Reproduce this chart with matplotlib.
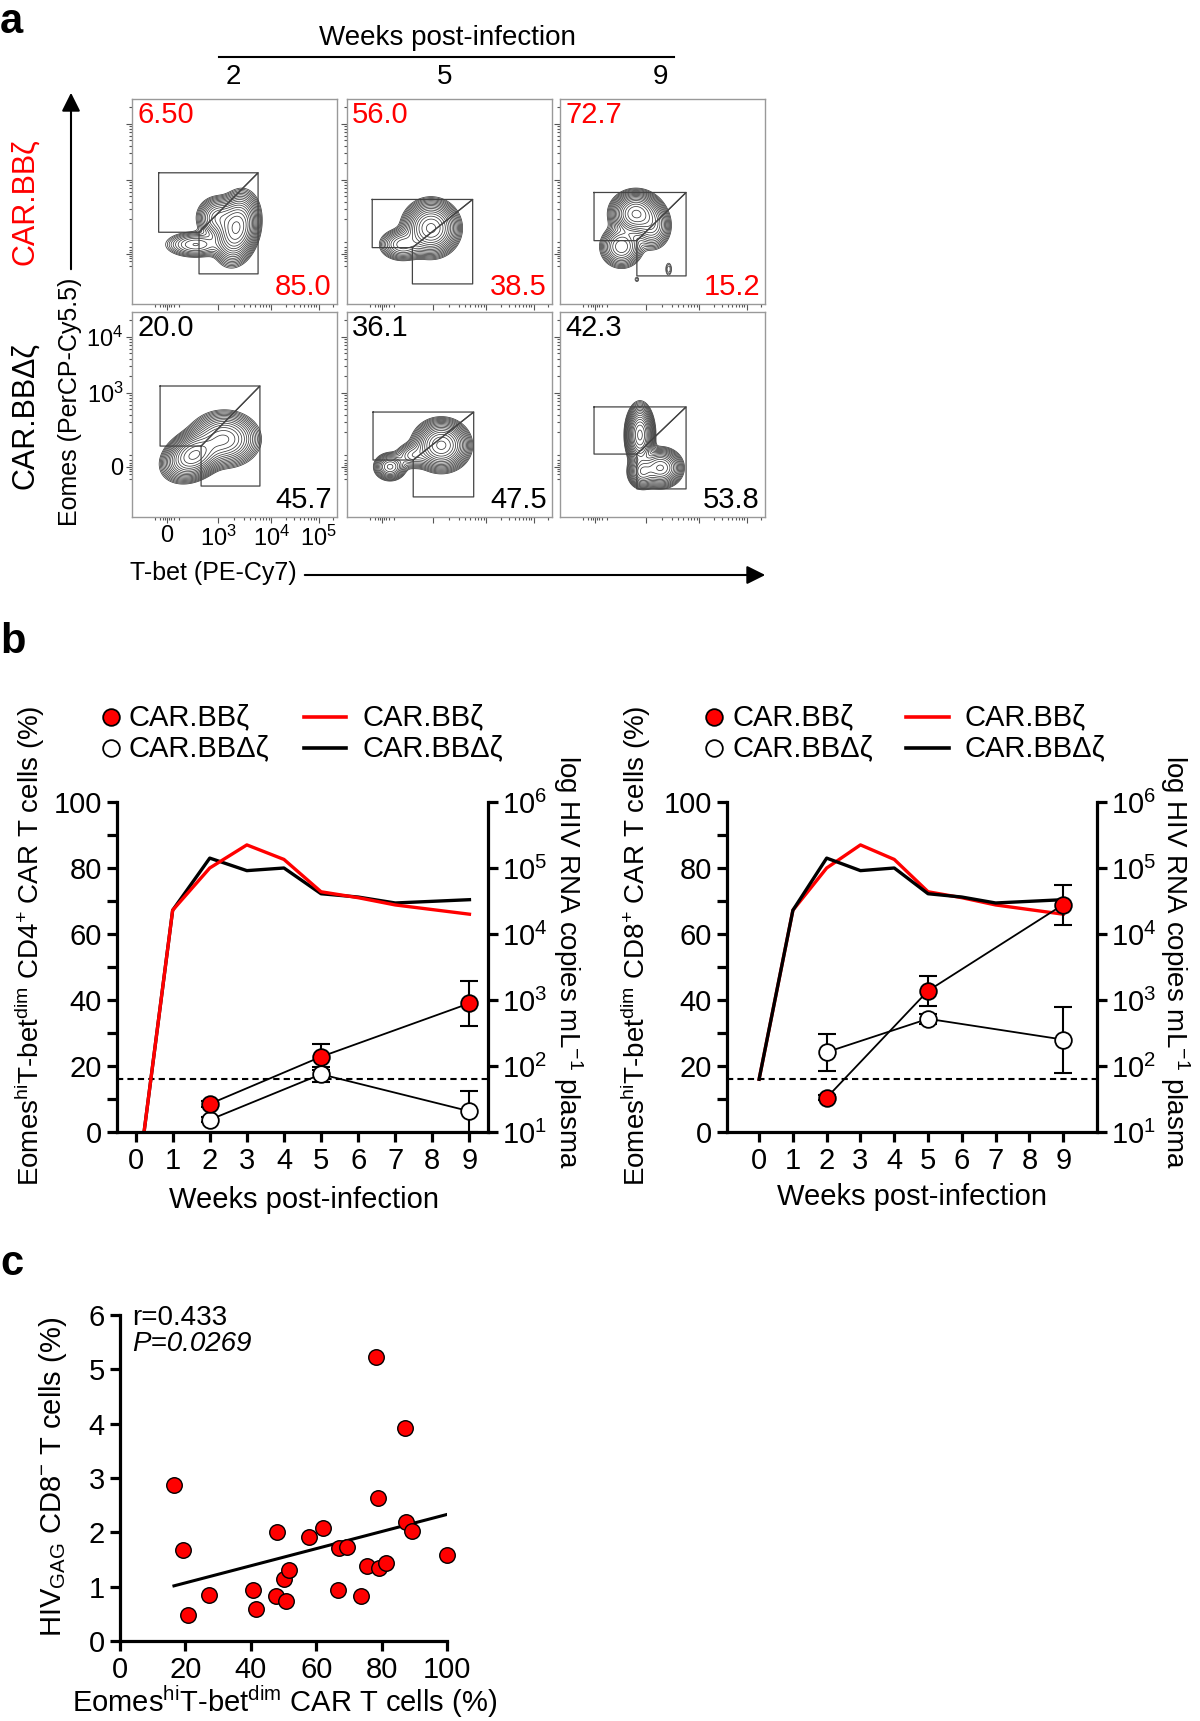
import numpy as np
import matplotlib.pyplot as plt
from matplotlib.ticker import NullLocator

plt.rcParams['font.family'] = ['Liberation Sans', 'DejaVu Sans']
plt.rcParams['mathtext.fontset'] = 'custom'
plt.rcParams['mathtext.rm'] = 'Liberation Sans'
plt.rcParams['mathtext.it'] = 'Liberation Sans:italic'
plt.rcParams['mathtext.bf'] = 'Liberation Sans:bold'

RED = '#ff0000'

# ---------------- panel a : flow plots ----------------
flow_weeks = ['2', '5', '9']
bb_upper = ['6.50', '56.0', '72.7']
bb_lower = ['85.0', '38.5', '15.2']
dz_upper = ['20.0', '36.1', '42.3']
dz_lower = ['45.7', '47.5', '53.8']

# gate corners (axes fraction): left, right, diagonal x, top, middle, bottom
gates_bb = [(0.13, 0.615, 0.327, 0.64, 0.35, 0.147),
            (0.123, 0.613, 0.319, 0.51, 0.275, 0.098),
            (0.166, 0.615, 0.375, 0.544, 0.309, 0.137)]
gates_dz = [(0.137, 0.624, 0.337, 0.639, 0.346, 0.151),
            (0.127, 0.618, 0.323, 0.512, 0.278, 0.098),
            (0.166, 0.615, 0.375, 0.537, 0.307, 0.137)]

# density blobs: cx, cy, sx, sy, rho, weight
blobs_bb = [
    [(0.51, 0.37, 0.045, 0.07, 0.2, 1.0), (0.42, 0.42, 0.045, 0.045, 0.0, 0.35),
     (0.31, 0.29, 0.07, 0.03, 0.0, 0.18)],
    [(0.41, 0.37, 0.055, 0.055, 0.0, 1.0), (0.27, 0.29, 0.05, 0.035, 0.0, 0.25)],
    [(0.37, 0.44, 0.05, 0.045, 0.0, 1.0), (0.30, 0.28, 0.045, 0.045, 0.0, 0.35),
     (0.45, 0.38, 0.04, 0.05, 0.0, 0.3), (0.53, 0.17, 0.012, 0.025, 0.0, 0.04),
     (0.375, 0.12, 0.01, 0.012, 0.0, 0.03)],
]
blobs_dz = [
    [(0.30, 0.30, 0.06, 0.05, 0.3, 1.0), (0.45, 0.38, 0.07, 0.055, 0.0, 0.6)],
    [(0.46, 0.35, 0.055, 0.05, 0.0, 1.0), (0.21, 0.245, 0.035, 0.03, 0.0, 0.3),
     (0.32, 0.30, 0.04, 0.03, 0.0, 0.15)],
    [(0.39, 0.40, 0.028, 0.06, 0.0, 1.0), (0.49, 0.24, 0.045, 0.04, 0.0, 0.6),
     (0.40, 0.22, 0.03, 0.035, 0.0, 0.4)],
]

flow_xticks = [0.17, 0.42, 0.68, 0.91]
flow_xlabels = ['0', '$10^3$', '$10^4$', '$10^5$']
flow_yticks = [0.244, 0.607, 0.88]
flow_ylabels = ['0', '$10^3$', '$10^4$']

# ---------------- panel b ----------------
vl_weeks = [0, 1, 2, 3, 4, 5, 6, 7, 9]
vl_red_cd4 = [0.0, 4.36, 5.0, 5.35, 5.13, 4.64, 4.55, 4.44, 4.3]     # log10 copies/mL
vl_black_cd4 = [0.0, 4.36, 5.15, 4.96, 5.0, 4.61, 4.56, 4.47, 4.52]
vl_red_cd8 = [1.8, 4.36, 5.0, 5.35, 5.13, 4.64, 4.55, 4.44, 4.3]
vl_black_cd8 = [1.8, 4.36, 5.15, 4.96, 5.0, 4.61, 4.56, 4.47, 4.52]
lod = 63

sym_weeks = [2, 5, 9]
cd4_bb = [8.5, 22.8, 39.0]
cd4_bb_err = [1.0, 4.0, 6.8]
cd4_dz = [3.7, 17.5, 6.3]
cd4_dz_err = [0.8, 2.2, 6.2]
cd8_bb = [10.4, 42.8, 68.9]
cd8_bb_err = [0.8, 4.6, 6.1]
cd8_dz = [24.2, 34.3, 28.0]
cd8_dz_err = [5.6, 1.5, 10.0]

# ---------------- panel c ----------------
eomes_pct = [16.5, 19.2, 20.9, 27.3, 40.8, 41.6, 47.9, 47.8, 50.7, 50.0, 51.8, 57.9, 62.1,
             66.8, 67.1, 69.4, 73.8, 75.5, 78.3, 78.9, 79.3, 81.3, 87.2, 87.6, 89.3, 100.0]
hivgag_pct = [2.87, 1.68, 0.48, 0.84, 0.93, 0.58, 2.0, 0.83, 0.73, 1.15, 1.31, 1.92, 2.08,
              0.93, 1.72, 1.73, 0.82, 1.38, 5.22, 2.63, 1.34, 1.43, 3.92, 2.19, 2.03, 1.59]

W, H = 1200, 1721
fig = plt.figure(figsize=(W / 100, H / 100), dpi=100)


def box(l, t, r, b):
    return [l / W, 1 - b / H, (r - l) / W, (b - t) / H]


# overlay in pixel coordinates for labels, arrows and legends
ov = fig.add_axes([0, 0, 1, 1])
ov.set_xlim(0, W)
ov.set_ylim(H, 0)
ov.axis('off')
ov.set_zorder(10)

# ---- panel a ----
gx = np.linspace(0, 1, 240)
GX, GY = np.meshgrid(gx, gx)


def density(blobs):
    z = np.zeros_like(GX)
    for cx, cy, sx, sy, rho, w in blobs:
        dx = (GX - cx) / sx
        dy = (GY - cy) / sy
        z += w * np.exp(-(dx ** 2 - 2 * rho * dx * dy + dy ** 2) / (2 * (1 - rho ** 2)))
    return z


def minor_list(zero, decades):
    out = []
    for a, b in zip(decades[:-1], decades[1:]):
        for k in range(2, 10):
            out.append(a + (b - a) * np.log10(k))
    out += [zero - 0.06, zero - 0.035, zero - 0.02, zero - 0.01, zero + 0.01,
            zero + 0.02, zero + 0.035, zero + 0.06]
    return out


x_minor = minor_list(flow_xticks[0], flow_xticks[1:] + [1.14])
y_minor = minor_list(flow_yticks[0], [0.334] + flow_yticks[1:] + [1.15])

flow_left = [132, 347, 560]
row_top = [99, 312]
for r in range(2):
    for c in range(3):
        ax = fig.add_axes(box(flow_left[c], row_top[r], flow_left[c] + 205, row_top[r] + 205))
        ax.set_xlim(0, 1)
        ax.set_ylim(0, 1)
        blobs = blobs_bb[c] if r == 0 else blobs_dz[c]
        z = density(blobs)
        ax.contour(GX, GY, z, levels=z.max() * np.geomspace(0.02, 0.92, 17),
                   colors='#3a3a3a', linewidths=0.55)
        L, R, D, T, M, B = gates_bb[c] if r == 0 else gates_dz[c]
        ax.plot([L, R, D, L, L], [T, T, M, M, T], color='#444444', lw=0.9)
        ax.plot([D, R, R, D, D], [M, T, B, B, M], color='#444444', lw=0.9)
        col = RED if r == 0 else 'k'
        up = bb_upper[c] if r == 0 else dz_upper[c]
        lo = bb_lower[c] if r == 0 else dz_lower[c]
        ax.text(0.025, 0.99, up, color=col, fontsize=21, ha='left', va='top', transform=ax.transAxes)
        ax.text(0.975, 0.015, lo, color=col, fontsize=21, ha='right', va='bottom', transform=ax.transAxes)
        for s in ax.spines.values():
            s.set_color('#999999')
            s.set_linewidth(1.0)
        ax.set_xticks(flow_xticks)
        ax.set_yticks(flow_yticks)
        ax.set_xticks([v for v in x_minor if 0 < v < 1], minor=True)
        ax.set_yticks([v for v in y_minor if 0 < v < 1], minor=True)
        ax.tick_params(which='both', direction='out', color='#555555', width=0.8)
        ax.tick_params(which='major', length=4)
        ax.tick_params(which='minor', length=2.5)
        if r == 1 and c == 0:
            ax.set_xticklabels(flow_xlabels, fontsize=17)
            ax.set_yticklabels(flow_ylabels, fontsize=17)
            ax.tick_params(pad=2)
        else:
            ax.set_xticklabels([])
            ax.set_yticklabels([])

ov.text(447, 38, 'Weeks post-infection', fontsize=20, ha='center', va='center')
ov.plot([219, 674], [57, 57], color='k', lw=1.5)
for xx, wk in zip([233, 445, 661], flow_weeks):
    ov.text(xx, 77, wk, fontsize=20, ha='center', va='center')
ov.annotate('', xy=(71, 90), xytext=(71, 272),
            arrowprops=dict(arrowstyle='-|>', lw=1.5, color='k', mutation_scale=28))
ov.annotate('', xy=(768, 575), xytext=(302, 575),
            arrowprops=dict(arrowstyle='-|>', lw=1.5, color='k', mutation_scale=28))
ov.text(25, 202, 'CAR.BBζ', color=RED, fontsize=22, rotation=90, ha='center', va='center')
ov.text(25, 416, 'CAR.BBΔζ', color='k', fontsize=22, rotation=90, ha='center', va='center')
ov.text(70, 402, 'Eomes (PerCP-Cy5.5)', fontsize=18, rotation=90, ha='center', va='center')
ov.text(130, 573, 'T-bet (PE-Cy7)', fontsize=18, ha='left', va='center')
ov.text(0, 2, 'a', fontsize=30, fontweight='bold', ha='left', va='top')


# ---- panel b ----
def draw_b(rect, xlim, vl_red, vl_black, y_bb, e_bb, y_dz, e_dz, red_on_top):
    ax = fig.add_axes(rect)
    ax2 = ax.twinx()
    ax2.plot(vl_weeks, 10 ** np.array(vl_red), color=RED, lw=2.4, zorder=3 if red_on_top else 2)
    ax2.plot(vl_weeks, 10 ** np.array(vl_black), color='k', lw=2.4, zorder=2 if red_on_top else 3)
    ax2.axhline(lod, color='k', lw=1.5, ls=(0, (3, 2)))
    ax2.set_yscale('log')
    ax2.set_ylim(10, 1e6)
    ax2.set_yticks([10.0 ** k for k in range(1, 7)])
    ax2.set_yticklabels(['$10^{%d}$' % k for k in range(1, 7)])
    ax2.yaxis.set_minor_locator(NullLocator())
    ax.set_zorder(ax2.get_zorder() + 1)
    ax.patch.set_visible(False)

    ax.plot(sym_weeks, y_bb, color='k', lw=1.3, zorder=2)
    ax.plot(sym_weeks, y_dz, color='k', lw=1.3, zorder=2)
    ax.errorbar(sym_weeks, y_bb, yerr=e_bb, fmt='none', ecolor='k', elinewidth=1.5,
                capsize=6.5, capthick=1.5, zorder=2)
    ax.errorbar(sym_weeks, y_dz, yerr=e_dz, fmt='none', ecolor='k', elinewidth=1.5,
                capsize=6.5, capthick=1.5, zorder=2)
    ax.plot(sym_weeks, y_dz, 'o', ms=12, mfc='white', mec='k', mew=1.3, zorder=4)
    ax.plot(sym_weeks, y_bb, 'o', ms=12, mfc=RED, mec='k', mew=1.3, zorder=5)

    ax.set_xlim(*xlim)
    ax.set_ylim(0, 100)
    ax.set_xticks(range(10))
    ax.set_yticks(range(0, 101, 20))
    ax.set_yticks(range(10, 100, 20), minor=True)
    for a in (ax, ax2):
        a.spines['top'].set_visible(False)
    ax.spines['right'].set_visible(False)
    ax2.spines['left'].set_visible(False)
    ax2.spines['bottom'].set_visible(False)
    for s in ('left', 'bottom'):
        ax.spines[s].set_linewidth(2.3)
    ax2.spines['right'].set_linewidth(2.3)
    ax.tick_params(which='both', direction='out', length=7, width=2.3, labelsize=21, pad=4)
    ax2.tick_params(direction='out', length=7, width=2.3, labelsize=21, pad=3)
    return ax


draw_b(box(117, 802, 488, 1132), (-0.5, 9.5), vl_red_cd4, vl_black_cd4,
       cd4_bb, cd4_bb_err, cd4_dz, cd4_dz_err, True)
draw_b(box(727, 802, 1097, 1132), (-0.95, 10.0), vl_red_cd8, vl_black_cd8,
       cd8_bb, cd8_bb_err, cd8_dz, cd8_dz_err, False)

ov.text(0, 642, 'b', fontsize=30, fontweight='bold', ha='left', va='center')
for mx, tx, lx0, lx1, ltx in [(111, 129, 304, 346, 362), (714, 733, 906, 949, 965)]:
    ov.plot([mx], [717], 'o', ms=12, mfc=RED, mec='k', mew=1.3)
    ov.plot([mx], [748], 'o', ms=12, mfc='white', mec='k', mew=1.3)
    ov.text(tx, 717, 'CAR.BBζ', fontsize=21, ha='left', va='center')
    ov.text(tx, 748, 'CAR.BBΔζ', fontsize=21, ha='left', va='center')
    ov.plot([lx0, lx1], [717, 717], color=RED, lw=2.6)
    ov.plot([lx0, lx1], [748, 748], color='k', lw=2.6)
    ov.text(ltx, 717, 'CAR.BBζ', fontsize=21, ha='left', va='center')
    ov.text(ltx, 748, 'CAR.BBΔζ', fontsize=21, ha='left', va='center')

ov.text(30, 946, 'Eomes$^{\\rm hi}$T-bet$^{\\rm dim}$ CD4$^{+}$ CAR T cells (%)', fontsize=20,
        rotation=90, ha='center', va='center')
ov.text(636, 946, 'Eomes$^{\\rm hi}$T-bet$^{\\rm dim}$ CD8$^{+}$ CAR T cells (%)', fontsize=20,
        rotation=90, ha='center', va='center')
for xx in (568, 1175):
    ov.text(xx, 962, 'log HIV RNA copies mL$^{-1}$ plasma', fontsize=20,
            rotation=270, ha='center', va='center')
ov.text(304, 1200, 'Weeks post-infection', fontsize=21, ha='center', va='center')
ov.text(912, 1197, 'Weeks post-infection', fontsize=21, ha='center', va='center')

# ---- panel c ----
axc = fig.add_axes(box(120, 1315, 447, 1641))
axc.scatter(eomes_pct, hivgag_pct, s=125, c=RED, edgecolors='k', linewidths=1.0, zorder=3)
slope, icpt = np.polyfit(eomes_pct, hivgag_pct, 1)
fx = np.array([min(eomes_pct), max(eomes_pct)])
axc.plot(fx, icpt + slope * fx, color='k', lw=2.2, zorder=2)
axc.set_xlim(0, 100)
axc.set_ylim(0, 6)
axc.set_xticks(range(0, 101, 20))
axc.set_yticks(range(0, 7))
axc.spines['top'].set_visible(False)
axc.spines['right'].set_visible(False)
for s in ('left', 'bottom'):
    axc.spines[s].set_linewidth(2.3)
axc.tick_params(direction='out', length=7, width=2.3, labelsize=21, pad=4)
for art in axc.collections:
    art.set_clip_on(False)

ov.text(0, 1264, 'c', fontsize=30, fontweight='bold', ha='left', va='center')
ov.text(132, 1318, 'r=0.433', fontsize=20, ha='left', va='center')
ov.text(132, 1344, 'P=0.0269', fontsize=20, style='italic', ha='left', va='center')
ov.text(53, 1477, 'HIV$_{\\rm GAG}$ CD8$^{-}$ T cells (%)', fontsize=21, rotation=90,
        ha='center', va='center')
ov.text(285, 1702, 'Eomes$^{\\rm hi}$T-bet$^{\\rm dim}$ CAR T cells (%)', fontsize=21,
        ha='center', va='center')

fig.savefig('out.png', dpi=100)
